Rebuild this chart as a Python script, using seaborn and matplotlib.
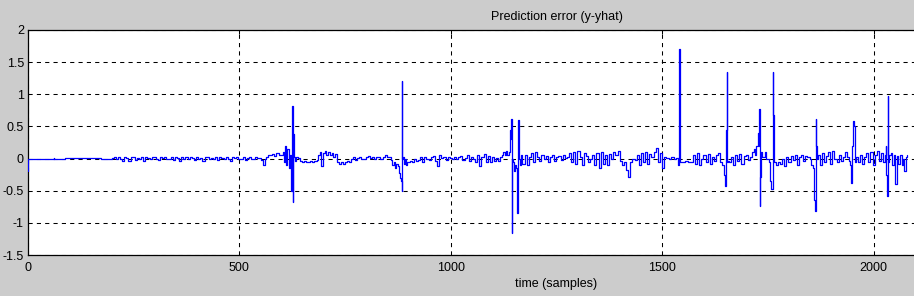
import numpy as np
import pandas as pd
import matplotlib
matplotlib.use("Agg")
import matplotlib.pyplot as plt
import seaborn as sns

# ---------------- data ----------------
title_text = "Prediction error (y-yhat)"
xlabel_text = "time (samples)"
x_ticks = [0, 500, 1000, 1500, 2000]
x_tick_labels = ["0", "500", "1000", "1500", "2000"]
y_ticks = [-1.5, -1, -0.5, 0, 0.5, 1, 1.5, 2]
y_tick_labels = ["-1.5", "-1", "-0.5", "0", "0.5", "1", "1.5", "2"]

# explicit (sample, value) stretches around transients
e0_t = [0, 1, 60, 61, 62, 113, 150, 195]
e0_v = [-0.2, 0.0, 0.0, 0.01, 0.0, 0.01, 0.01, 0.0]
e1_t = [555, 558, 561, 566, 570, 575, 580, 585, 590, 595, 600, 604, 607, 609, 612, 615, 618, 621, 624, 626, 627, 628, 630, 633]
e1_v = [-0.02, -0.1, 0.0, 0.03, 0.06, 0.05, 0.07, 0.04, 0.08, 0.06, 0.05, 0.1, -0.05, 0.19, -0.1, 0.15, -0.15, 0.05, -0.5, 0.82, -0.67, 0.38, 0.02, -0.04]
e2_t = [856, 860, 864, 867, 870, 873, 876, 879, 881, 883, 884, 885, 886, 888, 890, 892, 894, 897]
e2_v = [0.03, -0.02, -0.1, -0.05, -0.15, -0.08, -0.12, -0.22, -0.3, -0.35, -0.5, 1.21, 0.0, 0.03, -0.08, 0.0, -0.1, -0.05]
e3_t = [1123, 1126, 1129, 1132, 1135, 1138, 1140, 1142, 1143, 1144, 1145, 1146, 1148, 1150, 1152, 1155, 1159, 1161, 1162, 1164]
e3_v = [0.05, 0.1, 0.06, 0.12, 0.05, 0.1, 0.25, 0.45, 0.3, 0.62, -1.16, 0.0, -0.05, -0.2, -0.1, -0.15, -0.85, 0.6, 0.0, -0.1]
e4_t = [1512, 1518, 1524, 1530, 1536, 1538, 1540, 1541, 1542, 1543, 1546, 1552, 1558, 1564, 1570]
e4_v = [0.01, 0.0, 0.02, 0.0, 0.01, -0.1, 0.78, 1.71, 0.3, -0.05, -0.05, -0.05, -0.04, -0.05, -0.05]
e5_t = [1645, 1648, 1651, 1652, 1653, 1654, 1656]
e5_v = [-0.1, -0.25, -0.43, 0.45, 1.35, -0.05, -0.03]
e6_t = [1715, 1718, 1721, 1724, 1727, 1729, 1730, 1731, 1733, 1735, 1738, 1742, 1745, 1748, 1751, 1754, 1757, 1760, 1762, 1763, 1764, 1767]
e6_v = [0.1, 0.15, 0.05, 0.2, 0.4, 0.2, 0.77, -0.73, -0.28, 0.1, 0.02, 0.03, 0.1, 0.0, 0.0, -0.05, -0.35, -0.47, 1.35, 0.68, 0.0, -0.05]
e7_t = [1855, 1859, 1861, 1862, 1864, 1865, 1867]
e7_v = [-0.1, -0.15, -0.65, -0.82, 0.62, 0.2, 0.0]
e8_t = [1943, 1945, 1948, 1951, 1952, 1954, 1956, 1958, 1961]
e8_v = [-0.03, -0.1, -0.38, 0.2, 0.58, 0.5, 0.3, -0.05, 0.02]
e9_t = [2028, 2030, 2031, 2032, 2034, 2035, 2038]
e9_v = [0.05, 0.2, -0.25, -0.58, 0.97, -0.05, 0.05]
e10_t = [2042, 2046, 2050, 2053, 2056, 2060, 2064, 2068, 2071, 2074, 2077, 2080]
e10_v = [0.08, -0.1, 0.05, -0.4, 0.04, -0.08, 0.06, -0.1, 0.0, -0.2, 0.02, 0.05]

# noisy stretches sampled at a regular sample spacing: (first sample, spacing, values)
n1 = (200, 5, [0.01, 0.02, -0.01, 0.03, 0.0, -0.03, 0.02, 0.01, -0.04, 0.02, 0.03, -0.02, 0.01, 0.0, 0.03, -0.03,
               0.02, 0.01, -0.01, 0.02, 0.03, 0.0, -0.02, 0.02, 0.01, 0.03, -0.01, 0.0, 0.02, -0.02, 0.03, 0.01,
               -0.03, 0.02, 0.0, 0.02, -0.01, 0.03, 0.01, -0.02, 0.02, 0.0, 0.01, -0.03, 0.03, 0.02, -0.01, 0.01,
               0.0, 0.02, -0.02, 0.03, 0.01, -0.01, 0.02, 0.0, -0.03, 0.02, 0.01, 0.03, -0.01, 0.0, 0.02, -0.02,
               0.01, 0.03, 0.0, -0.01, 0.02, 0.01])
n2 = (635, 5, [0.02, 0.01, -0.03, -0.05, -0.04, -0.06, -0.05, -0.03, -0.06, -0.04, -0.02])
n3 = (688, 4, [0.05, 0.1, -0.12, 0.08, 0.12, 0.06, 0.1, 0.05, 0.09, 0.03, 0.07])
n4 = (732, 5, [-0.05, -0.08, -0.06, -0.08, -0.05, -0.04, -0.06])
n5 = (766, 5, [0.0, 0.02, -0.02, 0.01, 0.03, 0.0, -0.01, 0.02, 0.04, 0.01, 0.02, -0.01, 0.03, 0.02, 0.0, 0.03, 0.05, 0.02])
n6 = (900, 5, [-0.06, -0.03, -0.05, 0.0, -0.04, -0.02, 0.02, -0.05, 0.03, -0.01, -0.02, 0.02, 0.04, -0.03, -0.12,
               0.06, 0.01, 0.03, -0.02, 0.02, 0.01, -0.01, 0.03, 0.0, 0.02, 0.04, -0.02, 0.01, 0.05, -0.03, 0.02,
               0.0, -0.05, 0.06, -0.12, 0.03, 0.07, -0.05, 0.04, -0.06, 0.02, -0.04, 0.01, -0.03, 0.02])
n7 = (1167, 5, [0.05, -0.08, 0.06, -0.1, 0.03, 0.08, -0.05, 0.1, 0.02, -0.04, 0.06, 0.0, 0.04, -0.06, 0.03, 0.05,
                -0.03, 0.02, 0.04, -0.02, 0.06, 0.01, 0.03])
n8 = (1282, 5, [0.08, -0.05, 0.1, -0.08, 0.12, 0.02, -0.1, 0.09, 0.04, -0.05, 0.0, 0.06, -0.1, 0.08, -0.15, 0.1,
                -0.08, 0.05, -0.1, 0.07, 0.0, 0.1, 0.05, 0.12, -0.03, -0.1, -0.05, -0.18, -0.28, -0.05, 0.0, -0.02,
                0.06, -0.1, 0.08, -0.05, 0.1, -0.08, 0.07, 0.03, 0.1, 0.16, -0.05, 0.08, -0.15, 0.02])
n9 = (1575, 5, [0.05, -0.08, 0.08, -0.1, 0.0, 0.06, -0.05, 0.07, -0.08, 0.03, -0.04, 0.05, 0.08, -0.06])
n10 = (1660, 5, [-0.05, 0.02, -0.1, 0.05, -0.03, 0.07, -0.08, 0.04, 0.06, -0.02, 0.03])
n11 = (1771, 5, [-0.1, -0.05, -0.08, 0.0, -0.12, 0.03, -0.05, 0.04, -0.02, 0.05, -0.1, 0.02, 0.05, -0.03, 0.04, 0.02, 0.0])
n12 = (1870, 5, [0.05, -0.1, 0.08, -0.06, 0.04, 0.1, -0.08, 0.12, 0.0, -0.05, 0.06, -0.03, 0.03, 0.1, 0.02])
n13 = (1965, 5, [-0.05, 0.05, -0.08, 0.03, 0.08, -0.06, 0.1, -0.1, 0.06, 0.12, -0.04, 0.08, -0.05])

# ---------------- assemble ----------------
explicit = [(e0_t, e0_v), (e1_t, e1_v), (e2_t, e2_v), (e3_t, e3_v), (e4_t, e4_v), (e5_t, e5_v),
            (e6_t, e6_v), (e7_t, e7_v), (e8_t, e8_v), (e9_t, e9_v), (e10_t, e10_v)]
regular = [n1, n2, n3, n4, n5, n6, n7, n8, n9, n10, n11, n12, n13]
ts, vs = [], []
for t, v in explicit:
    ts.extend(t)
    vs.extend(v)
for start, step, v in regular:
    ts.extend(start + step * np.arange(len(v)))
    vs.extend(v)
df = pd.DataFrame({"time": np.array(ts, dtype=float), "error": np.array(vs, dtype=float)})
df = df.sort_values("time").drop_duplicates("time").reset_index(drop=True)

# ---------------- plot ----------------
sns.set_theme(style="white")
plt.rcParams["font.family"] = ["Liberation Sans", "DejaVu Sans"]
plt.rcParams["axes.unicode_minus"] = False

W, H = 914, 296
fig = plt.figure(figsize=(W / 100, H / 100), dpi=100, facecolor="#cccccc")
ax = fig.add_axes([28 / W, (H - 255) / H, 1057 / W, 225 / H])
ax.set_facecolor("white")
ax.set_axisbelow(True)

sns.lineplot(data=df, x="time", y="error", ax=ax, color="#0000ff", linewidth=0.9,
             estimator=None, errorbar=None, sort=True, drawstyle="steps-mid", zorder=3)

ax.set_xlim(0, 2500)
ax.set_ylim(-1.5, 2)
ax.set_xticks(x_ticks)
ax.set_xticklabels(x_tick_labels)
ax.set_yticks(y_ticks)
ax.set_yticklabels(y_tick_labels)
ax.grid(True, color="black", linestyle=(0, (4, 4)), linewidth=0.75)
ax.tick_params(axis="both", direction="in", length=3, width=0.75, colors="black",
               labelsize=9, top=True, right=True)
ax.tick_params(axis="x", pad=5)
ax.tick_params(axis="y", pad=3)
for s in ax.spines.values():
    s.set_color("black")
    s.set_linewidth(0.9)
    s.set_visible(True)

ax.set_title(title_text, fontsize=9, color="black", pad=7)
ax.set_xlabel(xlabel_text, fontsize=9, color="black", labelpad=3)
ax.set_ylabel("")

fig.savefig("out.png", dpi=100, facecolor=fig.get_facecolor())
